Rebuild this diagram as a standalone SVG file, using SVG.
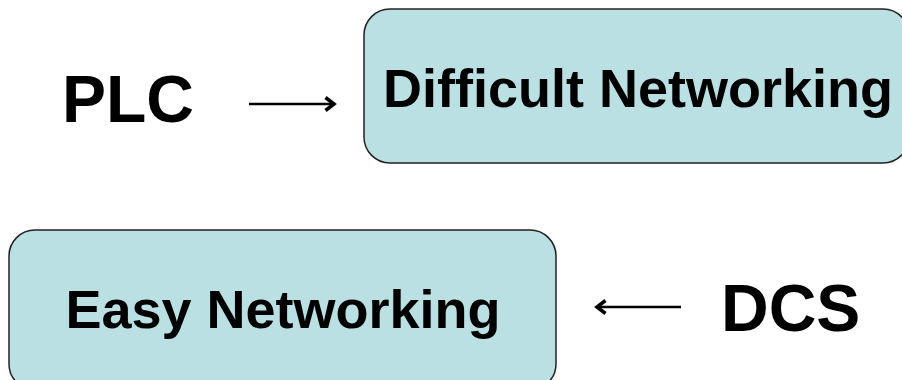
<svg xmlns="http://www.w3.org/2000/svg" width="902" height="380" viewBox="0 0 902 380">
<style>
.box{fill:#bbe0e3;stroke:#222;stroke-width:1.5}
.t{font-family:"Liberation Sans",Arial,sans-serif;font-weight:bold;fill:#000}
.c{stroke:#000;stroke-width:2.5;fill:none}
</style>
<defs>
<marker id="ah" markerWidth="18" markerHeight="18" refX="11" refY="9" orient="auto" markerUnits="userSpaceOnUse">
<path d="M2.5,2.5 L11,9 L2.5,15.5" fill="none" stroke="#000" stroke-width="3.5" stroke-linejoin="miter"/>
</marker>
</defs>
<rect width="902" height="380" fill="#fff"/>
<g id="plc"><text class="t" x="62" y="122" font-size="66">PLC</text></g>
<g id="difficult"><rect class="box" x="364" y="9" width="545" height="154" rx="26"/><text class="t" x="638" y="107" font-size="54" text-anchor="middle">Difficult Networking</text></g>
<g id="easy"><rect class="box" x="9" y="230" width="547" height="160" rx="26"/><text class="t" x="283" y="328" font-size="54" text-anchor="middle">Easy Networking</text></g>
<g id="dcs"><text class="t" x="721" y="331" font-size="66">DCS</text></g>
<g id="connectors">
<line class="c" x1="249" y1="104" x2="334" y2="104" marker-end="url(#ah)"/>
<line class="c" x1="681" y1="307" x2="597" y2="307" marker-end="url(#ah)"/>
</g>
</svg>
